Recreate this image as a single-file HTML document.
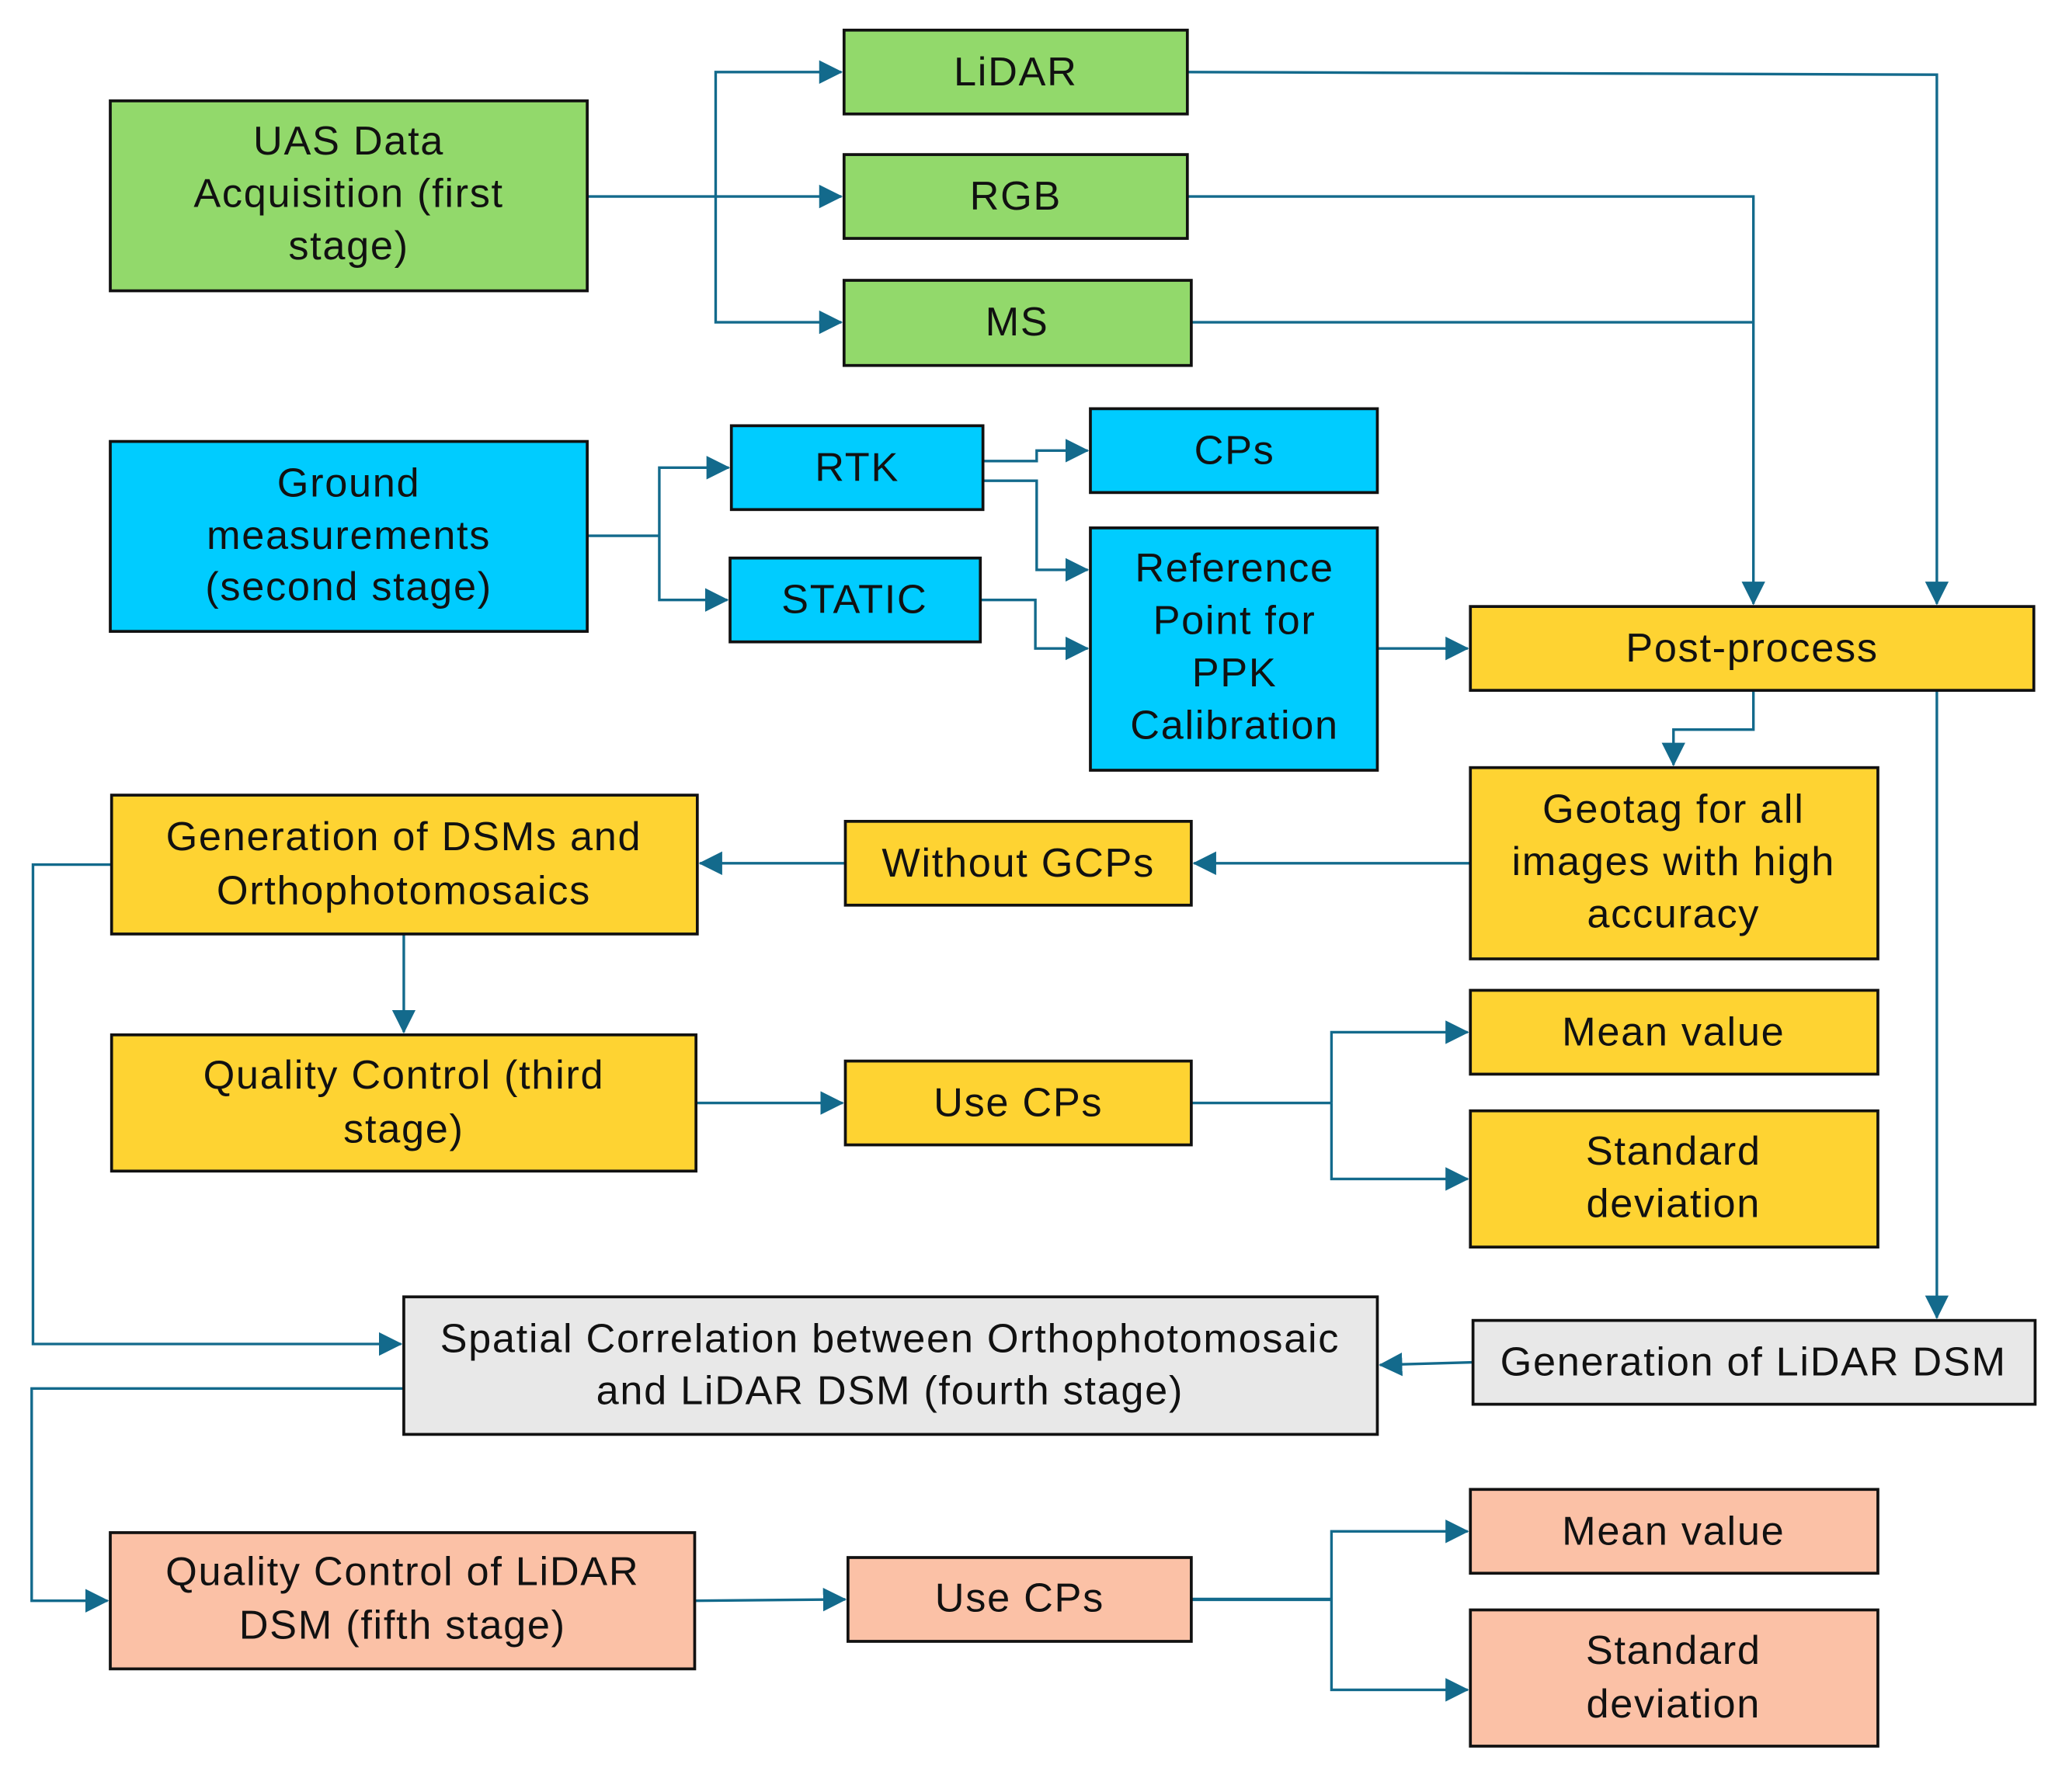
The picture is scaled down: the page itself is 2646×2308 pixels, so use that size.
<!DOCTYPE html>
<html><head><meta charset="utf-8"><style>
html,body{margin:0;padding:0;background:#fff;}
svg{display:block;}
text{font-family:"Liberation Sans",sans-serif;font-size:31px;letter-spacing:1px;fill:#111;text-anchor:middle;dominant-baseline:central;}
.b{stroke:#111;stroke-width:2.2;}
.l{stroke:#136a8c;stroke-width:2;fill:none;}
</style></head><body>
<svg width="2646" height="2308" viewBox="0 0 1568 1368" xmlns="http://www.w3.org/2000/svg">
<defs><marker id="a" markerWidth="18" markerHeight="18" refX="17" refY="9" orient="auto" markerUnits="userSpaceOnUse"><path d="M0,0 L18,9 L0,18 z" fill="#136a8c"/></marker></defs>
<g class="l">
<path d="M448,150 H642" marker-end="url(#a)"/>
<path d="M546,150 V55 H642" marker-end="url(#a)"/>
<path d="M546,150 V246 H642" marker-end="url(#a)"/>
<path d="M906,55 L1478,57 V461" marker-end="url(#a)"/>
<path d="M906,150 H1338 V461" marker-end="url(#a)"/>
<path d="M909,246 H1338"/>
<path d="M448,409 H503"/>
<path d="M503,409 V357 H556" marker-end="url(#a)"/>
<path d="M503,409 V458 H555" marker-end="url(#a)"/>
<path d="M750,352 H791 V344 H830" marker-end="url(#a)"/>
<path d="M750,367 H791 V435 H830" marker-end="url(#a)"/>
<path d="M748,458 H790 V495 H830" marker-end="url(#a)"/>
<path d="M1051,495 H1120" marker-end="url(#a)"/>
<path d="M1338,527 V557 H1277 V584" marker-end="url(#a)"/>
<path d="M1478,527 V1006" marker-end="url(#a)"/>
<path d="M1122,659 H911" marker-end="url(#a)"/>
<path d="M645,659 H534" marker-end="url(#a)"/>
<path d="M308,713 V788" marker-end="url(#a)"/>
<path d="M85,660 H25 V1026 H306" marker-end="url(#a)"/>
<path d="M531,842 H643" marker-end="url(#a)"/>
<path d="M909,842 H1016"/>
<path d="M1016,842 V788 H1120" marker-end="url(#a)"/>
<path d="M1016,842 V900 H1120" marker-end="url(#a)"/>
<path d="M1124,1040 L1053,1042" marker-end="url(#a)"/>
<path d="M308,1060 H24 V1222 H82" marker-end="url(#a)"/>
<path d="M530,1222 L645,1221" marker-end="url(#a)"/>
<path d="M909,1221 H1016" style="stroke-width:2.6"/>
<path d="M1016,1221 V1169 H1120" marker-end="url(#a)"/>
<path d="M1016,1221 V1290 H1120" marker-end="url(#a)"/>
</g>
<g class="b">
<rect x="84" y="77" width="364" height="145" fill="#92d96b"/>
<rect x="644" y="23" width="262" height="64" fill="#92d96b"/>
<rect x="644" y="118" width="262" height="64" fill="#92d96b"/>
<rect x="644" y="214" width="265" height="65" fill="#92d96b"/>
<rect x="84" y="337" width="364" height="145" fill="#00ccff"/>
<rect x="558" y="325" width="192" height="64" fill="#00ccff"/>
<rect x="557" y="426" width="191" height="64" fill="#00ccff"/>
<rect x="832" y="312" width="219" height="64" fill="#00ccff"/>
<rect x="832" y="403" width="219" height="185" fill="#00ccff"/>
<rect x="1122" y="463" width="430" height="64" fill="#fed332"/>
<rect x="1122" y="586" width="311" height="146" fill="#fed332"/>
<rect x="645" y="627" width="264" height="64" fill="#fed332"/>
<rect x="85" y="607" width="447" height="106" fill="#fed332"/>
<rect x="85" y="790" width="446" height="104" fill="#fed332"/>
<rect x="645" y="810" width="264" height="64" fill="#fed332"/>
<rect x="1122" y="756" width="311" height="64" fill="#fed332"/>
<rect x="1122" y="848" width="311" height="104" fill="#fed332"/>
<rect x="308" y="990" width="743" height="105" fill="#e8e8e8"/>
<rect x="1124" y="1008" width="429" height="64" fill="#e8e8e8"/>
<rect x="84" y="1170" width="446" height="104" fill="#fbc1a6"/>
<rect x="647" y="1189" width="262" height="64" fill="#fbc1a6"/>
<rect x="1122" y="1137" width="311" height="64" fill="#fbc1a6"/>
<rect x="1122" y="1229" width="311" height="104" fill="#fbc1a6"/>
</g>
<text x="266" y="108">UAS Data</text><text x="266" y="148">Acquisition (first</text><text x="266" y="188">stage)</text>
<text x="775" y="55">LiDAR</text>
<text x="775" y="150">RGB</text>
<text x="776" y="246">MS</text>
<text x="266" y="369">Ground</text><text x="266" y="409">measurements</text><text x="266" y="448">(second stage)</text>
<text x="654" y="357">RTK</text>
<text x="652" y="458">STATIC</text>
<text x="942" y="344">CPs</text>
<text x="942" y="434">Reference</text><text x="942" y="474">Point for</text><text x="942" y="514">PPK</text><text x="942" y="554">Calibration</text>
<text x="1337" y="495">Post-process</text>
<text x="1277" y="618">Geotag for all</text><text x="1277" y="658">images with high</text><text x="1277" y="698">accuracy</text>
<text x="777" y="659">Without GCPs</text>
<text x="308" y="639">Generation of DSMs and</text><text x="308" y="680">Orthophotomosaics</text>
<text x="308" y="821">Quality Control (third</text><text x="308" y="862">stage)</text>
<text x="777" y="842">Use CPs</text>
<text x="1277" y="788">Mean value</text>
<text x="1277" y="879">Standard</text><text x="1277" y="919">deviation</text>
<text x="679" y="1022">Spatial Correlation between Orthophotomosaic</text><text x="679" y="1062">and LiDAR DSM (fourth stage)</text>
<text x="1338" y="1040">Generation of LiDAR DSM</text>
<text x="307" y="1200">Quality Control of LiDAR</text><text x="307" y="1241">DSM (fifth stage)</text>
<text x="778" y="1220">Use CPs</text>
<text x="1277" y="1169">Mean value</text>
<text x="1277" y="1260">Standard</text><text x="1277" y="1301">deviation</text>
</svg>
</body></html>
